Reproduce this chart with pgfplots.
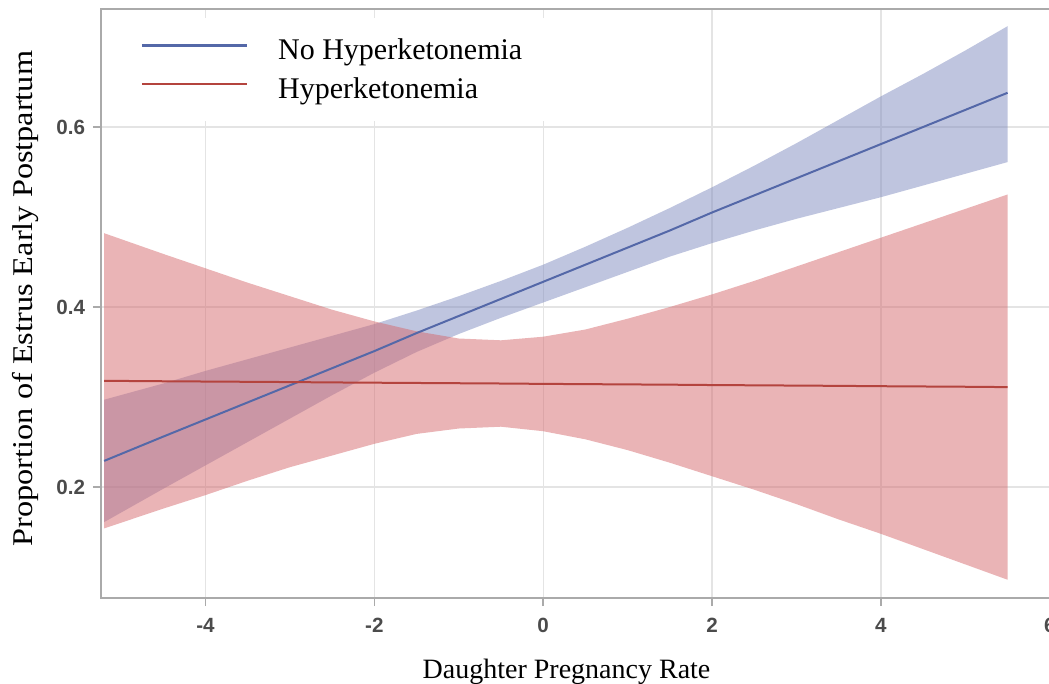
\documentclass[border=0pt]{standalone}
\usepackage{fontspec}
\setmainfont{Liberation Serif}
\newfontfamily\tickfont{Liberation Sans}
\usepackage{graphicx}
\usepackage{pgfplots}
\usepackage{pgfplotstable}
\usepgfplotslibrary{fillbetween}
\pgfplotsset{compat=1.18}
\definecolor{bline}{RGB}{84,104,168}
\definecolor{rline}{RGB}{180,68,62}
\definecolor{bfill}{RGB}{127,139,191}
\definecolor{rfill}{RGB}{213,105,109}
\definecolor{framec}{RGB}{170,170,170}
\definecolor{gridc}{RGB}{228,228,228}
\definecolor{tickc}{RGB}{75,75,75}

\pgfplotstableread{
x mid lo hi
-5.2 0.229 0.161 0.297
-4.5 0.256 0.198 0.315
-4 0.275 0.224 0.329
-3.5 0.294 0.250 0.342
-3 0.313 0.276 0.355
-2.5 0.332 0.302 0.368
-2 0.351 0.327 0.381
-1.5 0.371 0.350 0.396
-1 0.390 0.370 0.412
-0.5 0.409 0.388 0.429
0 0.428 0.405 0.447
0.5 0.447 0.422 0.467
1 0.466 0.439 0.488
1.5 0.485 0.456 0.510
2 0.505 0.471 0.533
2.5 0.524 0.485 0.557
3 0.543 0.498 0.582
3.5 0.562 0.510 0.608
4 0.581 0.522 0.634
4.5 0.600 0.535 0.659
5 0.619 0.548 0.685
5.5 0.638 0.561 0.712
}\bluedata

\pgfplotstableread{
x mid lo hi
-5.2 0.318 0.154 0.482
-4.5 0.3175 0.176 0.459
-4 0.3172 0.191 0.443
-3.5 0.3169 0.207 0.427
-3 0.3166 0.222 0.412
-2.5 0.3162 0.235 0.397
-2 0.3159 0.248 0.384
-1.5 0.3156 0.259 0.373
-1 0.3153 0.265 0.365
-0.5 0.3150 0.267 0.363
0 0.3146 0.262 0.367
0.5 0.3143 0.253 0.375
1 0.3140 0.241 0.387
1.5 0.3137 0.227 0.400
2 0.3133 0.212 0.414
2.5 0.3130 0.197 0.429
3 0.3127 0.181 0.445
3.5 0.3124 0.164 0.461
4 0.3120 0.148 0.477
4.5 0.3117 0.131 0.493
5 0.3114 0.114 0.509
5.5 0.3110 0.097 0.525
}\reddata

\begin{document}
\begin{tikzpicture}
\begin{axis}[
  at={(0,0)}, anchor=south west,
  scale only axis, width=476.5bp, height=294.5bp,
  xmin=-5.237, xmax=6.05, ymin=0.0767, ymax=0.7311,
  xtick={-4,-2,0,2,4,6}, xticklabels={-4,-2,0,2,4,6},
  ytick={0.2,0.4,0.6}, yticklabels={0.2,0.4,0.6},
  xtick pos=left, ytick pos=left,
  grid=major, major grid style={gridc, line width=0.6bp},
  axis line style={framec, line width=1bp},
  tick align=outside, major tick length=4bp,
  tick style={framec, line width=0.7bp},
  /pgf/number format/assume math mode=true,
  ticklabel style={font=\tickfont\bfseries\fontsize{10.3bp}{12bp}\selectfont, text=tickc},
  xticklabel style={yshift=-2.5bp},
  yticklabel style={xshift=-0.5bp},
  legend style={at={(rel axis cs:0.00944,0.9847)}, anchor=north west,
    draw=none, fill=white, inner xsep=15bp, inner ysep=10bp,
    font=\fontsize{15bp}{18bp}\selectfont, row sep=7.5bp, column sep=15bp,
    nodes={inner sep=0pt}},
  legend cell align=left,
  legend image code/.code={\draw[#1, line width=1.4bp] (0bp,2.6bp) -- (52.5bp,2.6bp);},
]
\addplot[name path=bu, draw=none, forget plot] table[x=x, y=hi] {\bluedata};
\addplot[name path=bl, draw=none, forget plot] table[x=x, y=lo] {\bluedata};
\addplot[bfill, fill opacity=0.5, draw=none, forget plot] fill between[of=bu and bl];
\addplot[name path=ru, draw=none, forget plot] table[x=x, y=hi] {\reddata};
\addplot[name path=rl, draw=none, forget plot] table[x=x, y=lo] {\reddata};
\addplot[rfill, fill opacity=0.5, draw=none, forget plot] fill between[of=ru and rl];
\addplot[bline, line width=1bp] table[x=x, y=mid] {\bluedata};
\addplot[rline, line width=1bp] table[x=x, y=mid] {\reddata};
\legend{No Hyperketonemia, Hyperketonemia}
\end{axis}
\node[anchor=base, font=\fontsize{14bp}{16bp}\selectfont] at (232.77bp,-40bp) {Daughter Pregnancy Rate};
\node[rotate=90, anchor=base, font=\fontsize{14.3bp}{16bp}\selectfont] at (-34.5bp,149.75bp) {\scalebox{1.13}[1]{Proportion of Estrus Early Postpartum}};
\pgfresetboundingbox
\path[use as bounding box] (-50.5bp,-43bp) rectangle (474bp,299bp);
\end{tikzpicture}
\end{document}
